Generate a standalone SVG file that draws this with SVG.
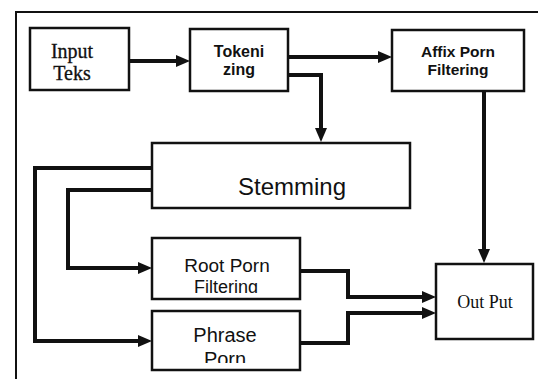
<svg xmlns="http://www.w3.org/2000/svg" width="538" height="379" viewBox="0 0 538 379">
<style>
.box{fill:#fff;stroke:#111;stroke-width:2.5}
.c{fill:none;stroke:#111;stroke-width:4;stroke-linejoin:miter}
.a{marker-end:url(#ah)}
.serif{font-family:"Liberation Serif","Times New Roman",serif;fill:#111;text-anchor:middle}
.sans{font-family:"Liberation Sans",Arial,sans-serif;fill:#111;text-anchor:middle}
</style>
<defs>
<marker id="ah" markerUnits="userSpaceOnUse" markerWidth="15" markerHeight="13" refX="6" refY="6" orient="auto">
<path d="M0,0 L14,6 L0,12 Z" fill="#111"/>
</marker>
<clipPath id="clipRoot"><rect x="152" y="238" width="148" height="55"/></clipPath>
<clipPath id="clipPhrase"><rect x="152" y="311" width="148" height="52"/></clipPath>
</defs>
<rect width="538" height="379" fill="#fff"/>
<path d="M16,379 V12 H538" fill="none" stroke="#111" stroke-width="2"/>
<g id="input">
<rect class="box" x="30" y="28" width="99" height="62"/>
<text class="serif" x="72" y="58" font-size="20" stroke="#111" stroke-width="0.3">Input</text>
<text class="serif" x="72" y="80" font-size="20" stroke="#111" stroke-width="0.3">Teks</text>
</g>
<g id="tokenizing">
<rect class="box" x="190" y="29" width="98" height="62"/>
<text class="sans" x="239" y="57" font-size="16" font-weight="bold">Tokeni</text>
<text class="sans" x="239" y="75" font-size="16" font-weight="bold">zing</text>
</g>
<g id="affix">
<rect class="box" x="392" y="30" width="132" height="61"/>
<text class="sans" x="458" y="57" font-size="15.5" font-weight="bold">Affix Porn</text>
<text class="sans" x="458" y="75" font-size="15.5" font-weight="bold">Filtering</text>
</g>
<g id="stemming">
<rect class="box" x="152" y="143" width="258" height="65"/>
<text class="sans" x="292" y="195" font-size="24">Stemming</text>
</g>
<g id="root">
<rect class="box" x="152" y="238" width="148" height="61"/>
<g clip-path="url(#clipRoot)">
<text class="sans" x="227" y="272" font-size="19">Root Porn</text>
<text class="sans" x="226" y="293" font-size="18">Filtering</text>
</g>
</g>
<g id="phrase">
<rect class="box" x="152" y="311" width="148" height="59"/>
<g clip-path="url(#clipPhrase)">
<text class="sans" x="225" y="342" font-size="20">Phrase</text>
<text class="sans" x="225" y="366" font-size="20">Porn</text>
</g>
</g>
<g id="output">
<rect class="box" x="436" y="264" width="97" height="75"/>
<text class="serif" x="485" y="308" font-size="18">Out Put</text>
</g>
<g id="connectors">
<path class="c a" d="M129,61 H182"/>
<path class="c a" d="M288,57 H384"/>
<path class="c a" d="M288,75 H321 V134"/>
<path class="c a" d="M484,91 V255"/>
<path class="c a" d="M152,190 H68 V268 H144"/>
<path class="c a" d="M152,168 H35 V341 H144"/>
<path class="c a" d="M300,271 H348 V297 H428"/>
<path class="c a" d="M300,343 H348 V313 H428"/>
</g>
</svg>
